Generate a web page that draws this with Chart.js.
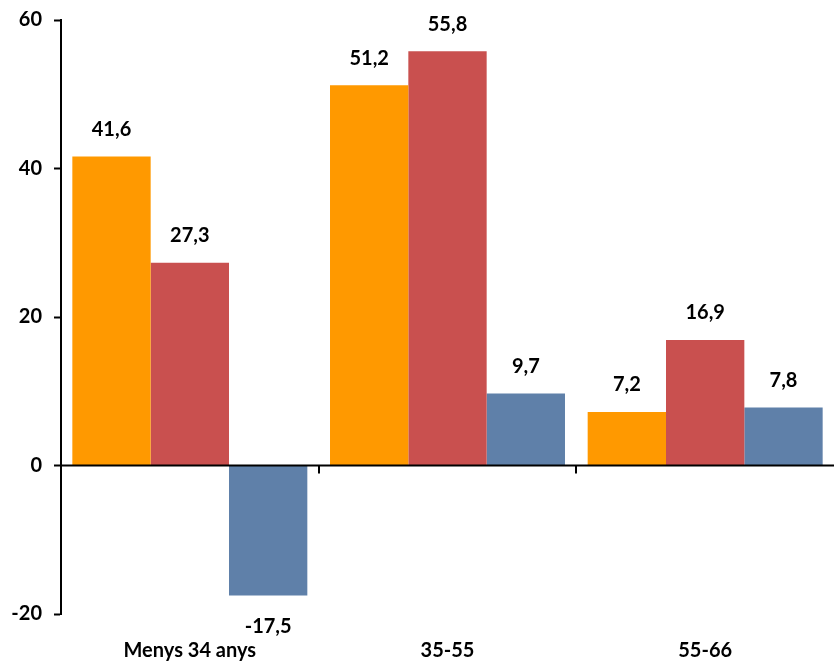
<!DOCTYPE html>
<html>
<head>
<meta charset="utf-8">
<style>
  html, body { margin: 0; padding: 0; background: #fff; }
  #wrap { width: 834px; height: 662px; }
</style>
<script src="https://cdn.jsdelivr.net/npm/chart.js@4/dist/chart.umd.min.js"></script>
</head>
<body>
<div id="wrap"><canvas id="barChart"></canvas></div>
<script>
const categories = ['Menys 34 anys', '35-55', '55-66']
const orangeValues = [41.6, 51.2, 7.2]
const redValues = [27.3, 55.8, 16.9]
const blueValues = [-17.5, 9.7, 7.8]
const yTicks = [-20, 0, 20, 40, 60]

const fontFamily = 'Lato, "Open Sans", sans-serif'

// value labels above / below each bar, with a decimal comma
const valueLabels = {
    id: 'valueLabels',
    afterDatasetsDraw(chart) {
        const ctx = chart.ctx
        ctx.save()
        ctx.font = 'bold 20px ' + fontFamily
        ctx.fillStyle = '#000'
        ctx.textAlign = 'center'
        ctx.textBaseline = 'middle'
        chart.data.datasets.forEach((ds, i) => {
            chart.getDatasetMeta(i).data.forEach((bar, j) => {
                const v = ds.data[j]
                const txt = String(v).replace('.', ',')
                const y = v >= 0 ? bar.y - 27 : bar.y + 31
                ctx.fillText(txt, bar.x, y)
            })
        })
        ctx.restore()
    }
}

// zero line with small ticks between categories
const zeroLine = {
    id: 'zeroLine',
    afterDatasetsDraw(chart) {
        const ctx = chart.ctx
        const x = chart.scales.x
        const y0 = chart.scales.y.getPixelForValue(0)
        ctx.save()
        ctx.strokeStyle = '#000'
        ctx.lineWidth = 2
        ctx.beginPath()
        ctx.moveTo(chart.chartArea.left, y0)
        ctx.lineTo(chart.width, y0)
        ctx.stroke()
        for (let i = 1; i < categories.length; i++) {
            const px = Math.round((x.getPixelForValue(i - 1) + x.getPixelForValue(i)) / 2)
            ctx.beginPath()
            ctx.moveTo(px, y0)
            ctx.lineTo(px, y0 + 8)
            ctx.stroke()
        }
        ctx.restore()
    }
}

const myBarChart = new Chart(document.getElementById('barChart'), {
    type: 'bar',
    data: {
        labels: categories,
        datasets: [
            { data: orangeValues, backgroundColor: '#FF9900' },
            { data: redValues, backgroundColor: '#C9504F' },
            { data: blueValues, backgroundColor: '#5F80A9' }
        ]
    },
    options: {
        responsive: true,
        maintainAspectRatio: false,
        animation: false,
        layout: { padding: { top: 20, right: 0, left: 0, bottom: 0 } },
        datasets: { bar: { categoryPercentage: 0.912, barPercentage: 1 } },
        plugins: {
            legend: { display: false },
            tooltip: { enabled: false }
        },
        scales: {
            x: {
                grid: { display: false },
                border: { display: false },
                ticks: {
                    color: '#000',
                    font: { family: fontFamily, size: 20, weight: 'bold' },
                    padding: 17,
                    maxRotation: 0
                },
                afterFit(scale) { scale.height = 48 }
            },
            y: {
                min: -20,
                max: 60,
                afterBuildTicks(scale) { scale.ticks = yTicks.map(v => ({ value: v })) },
                grid: { drawOnChartArea: false, tickLength: 7, color: '#000', tickWidth: 2 },
                border: { color: '#000', width: 2 },
                ticks: {
                    color: '#000',
                    font: { family: fontFamily, size: 20, weight: 'bold' },
                    padding: 12
                },
                afterFit(scale) {
                    scale.width = 61
                    scale.paddingTop = 0
                    scale.paddingBottom = 0
                }
            }
        }
    },
    plugins: [zeroLine, valueLabels]
})
</script>
</body>
</html>
